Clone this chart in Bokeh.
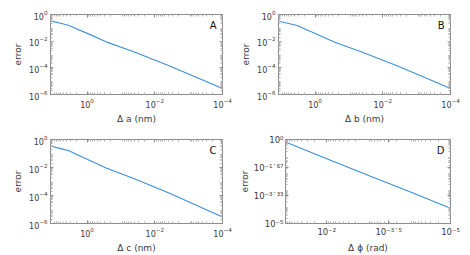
from bokeh.plotting import figure
from bokeh.layouts import column, row
from bokeh.models import Range1d, FixedTicker, Label, LogAxis
from bokeh.embed import file_html
from bokeh.resources import INLINE

# ---- data ----
delta_a = [11.5, 5.6, 3.4, 2.24, 1.11, 0.263, 0.0437, 0.0038, 0.00051, 0.0001]
err_a = [0.32, 0.21, 0.151, 0.095, 0.0437, 0.0085, 0.00166, 1.45e-4, 1.66e-5, 2.8e-6]
delta_b = [11.5, 5.6, 3.4, 2.24, 1.11, 0.263, 0.0437, 0.0038, 0.00051, 0.0001]
err_b = [0.31, 0.205, 0.148, 0.093, 0.043, 0.0083, 0.00163, 1.42e-4, 1.63e-5, 2.8e-6]
delta_c = [11.5, 5.6, 3.4, 2.24, 1.11, 0.263, 0.0437, 0.0038, 0.00051, 0.0001]
err_c = [0.33, 0.215, 0.155, 0.097, 0.0445, 0.0087, 0.0017, 1.48e-4, 1.7e-5, 2.9e-6]
delta_phi = [0.1, 0.01, 0.001, 0.0001, 0.00001]
err_phi = [0.70, 0.072, 0.0075, 0.0008, 8.2e-5]

x_ticks_abc = [1.0, 1e-2, 1e-4]
y_ticks_abc = [1.0, 1e-2, 1e-4, 1e-6]
x_ticks_phi = [1e-2, 10 ** -3.5, 1e-5]
y_ticks_phi = [1.0, 10 ** (-5 / 3), 10 ** (-10 / 3), 1e-5]
x_labels_phi = ["10\u207b\u00b2", "10\u207b\u00b3\u02d9\u2075", "10\u207b\u2075"]
y_labels_phi = ["10\u2070", "10\u207b\u00b9\u02d9\u2076\u2077", "10\u207b\u00b3\u02d9\u00b3\u00b3", "10\u207b\u2075"]

LINE = "#3d8fd6"
FONT = "DejaVu Sans"
GRAY = "#8c8c8c"
TXT = "#3a3a3a"


def minors(lo_exp, hi_exp):
    return [k * 10.0 ** e for e in range(lo_exp, hi_exp) for k in range(2, 10)]


def style_axis(ax, xt, mt, show_labels):
    ax.ticker = FixedTicker(ticks=xt, minor_ticks=mt)
    ax.axis_line_color = GRAY
    ax.major_tick_line_color = GRAY
    ax.minor_tick_line_color = "#b0b0b0"
    ax.major_tick_in = 3
    ax.major_tick_out = 0
    ax.minor_tick_in = 2
    ax.minor_tick_out = 0
    ax.major_label_text_font = FONT
    ax.major_label_text_color = TXT
    ax.axis_label_text_font = FONT
    ax.axis_label_text_font_size = "9px"
    ax.axis_label_text_font_style = "normal"
    ax.axis_label_text_color = TXT
    ax.major_label_standoff = 3
    ax.axis_label_standoff = 3
    if show_labels:
        ax.major_label_text_font_size = "8px"
    else:
        ax.major_label_text_font_size = "1px"
        ax.major_label_text_alpha = 0
        ax.major_label_standoff = 0


def make(x, y, xr, yr, xt, yt, xm, ym, xlabel, letter, w, h, left, top, bottom,
         xlab=None, ylab=None, lab_size="8px"):
    p = figure(width=w, height=h, x_axis_type="log", y_axis_type="log",
               x_range=Range1d(*xr), y_range=Range1d(*yr),
               output_backend="svg", toolbar_location=None,
               min_border_left=left, min_border_right=w - left - 172,
               min_border_top=top, min_border_bottom=bottom)
    p.line(x, y, line_color=LINE, line_width=1.1)
    p.xgrid.visible = False
    p.ygrid.visible = False
    p.outline_line_color = GRAY
    bottom_ax = p.below[0]
    left_ax = p.left[0]
    style_axis(bottom_ax, xt, xm, True)
    style_axis(left_ax, yt, ym, True)
    top_ax = LogAxis()
    right_ax = LogAxis()
    style_axis(top_ax, xt, xm, False)
    style_axis(right_ax, yt, ym, False)
    p.add_layout(top_ax, "above")
    p.add_layout(right_ax, "right")
    if xlab:
        bottom_ax.major_label_overrides = dict(zip(xt, xlab))
        bottom_ax.major_label_text_font_size = lab_size
    if ylab:
        left_ax.major_label_overrides = dict(zip(yt, ylab))
        left_ax.major_label_text_font_size = lab_size
        left_ax.major_label_standoff = 2
        left_ax.axis_label_standoff = 1
    bottom_ax.axis_label = xlabel
    left_ax.axis_label = "error"
    p.add_layout(Label(x=xr[1], y=yr[1], x_offset=-6, y_offset=-5, text=letter,
                       text_align="right", text_baseline="top", text_font=FONT,
                       text_font_size="10px", text_color="#111111"))
    return p


pa = make(delta_a, err_a, (10 ** 1.08, 1e-4), (1e-6, 1.0), x_ticks_abc, y_ticks_abc,
          minors(-4, 1), minors(-6, 0), "\u0394 a (nm)", "A", 236, 126, 50, 14, 27)
pb = make(delta_b, err_b, (10 ** 1.08, 1e-4), (1e-6, 1.0), x_ticks_abc, y_ticks_abc,
          minors(-4, 1), minors(-6, 0), "\u0394 b (nm)", "B", 234, 126, 42, 14, 27)
pc = make(delta_c, err_c, (10 ** 1.08, 1e-4), (1e-6, 1.0), x_ticks_abc, y_ticks_abc,
          minors(-4, 1), minors(-6, 0), "\u0394 c (nm)", "C", 236, 129, 50, 13, 31)
pd = make(delta_phi, err_phi, (0.1, 1e-5), (1e-5, 1.0), x_ticks_phi, y_ticks_phi,
          minors(-5, -1), minors(-5, 0), "\u0394 \u03d5 (rad)", "D", 234, 129, 42, 13, 31,
          x_labels_phi, y_labels_phi, "8.5px")

layout = column(row(pa, pb), row(pc, pd))
open("out.html", "w").write(file_html(layout, INLINE))
